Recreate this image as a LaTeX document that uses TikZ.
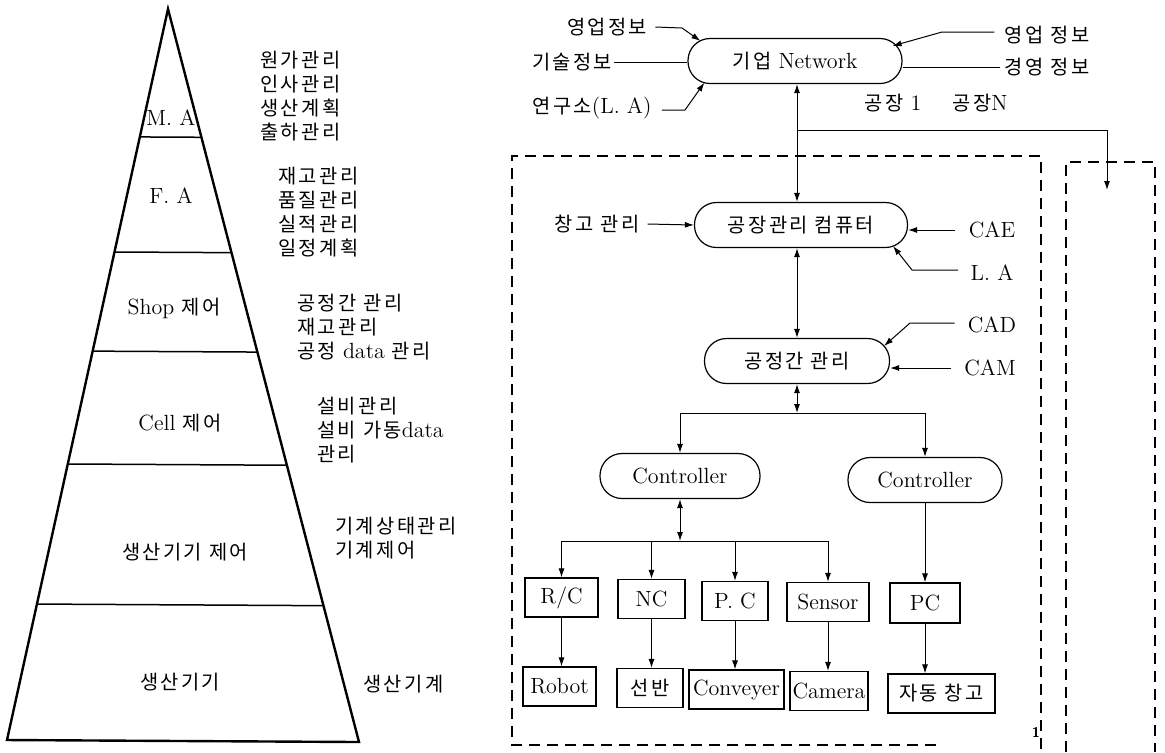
\documentclass[tikz,border=0pt]{standalone}
\usepackage{fontspec}
\newfontfamily\kr[Scale=0.9,LetterSpace=12]{Noto Sans CJK KR}
\usetikzlibrary{arrows.meta,calc}
\begin{document}
\begin{tikzpicture}[x=0.5pt,y=-0.5pt,
  font=\fontsize{11}{12}\selectfont,
  every node/.style={inner sep=0pt},
  list/.style={align=left, anchor=west, font=\fontsize{11}{12}\selectfont\kr},
  rbox/.style={draw, line width=0.6pt, rounded corners=11pt, minimum height=22.5pt},
  sbox/.style={draw, line width=0.6pt, minimum height=19.5pt},
  conn/.style={line width=0.5pt},
  arr/.style={conn, -{Latex[length=4.5pt,width=3pt]}},
  dbl/.style={conn, {Latex[length=4.5pt,width=3pt]}-{Latex[length=4.5pt,width=3pt]}},
  dashbox/.style={line width=0.6pt, dash pattern=on 5.5pt off 3.5pt},
  tri/.style={line width=1.2pt, line join=miter},
  tier/.style={line width=0.75pt}
]
\useasboundingbox (0,0) rectangle (1165,752);

% ---------------- pyramid ----------------
\coordinate (ap) at (168,9);
\coordinate (bl) at (7,740);
\coordinate (br) at (359,742);
\draw[tri] (ap) -- (bl) -- (br) -- cycle;
\foreach \t in {0.175,0.3324,0.468,0.6224,0.814}
  \draw[tier] ($(ap)!\t!(bl)$) -- ($(ap)!\t!(br)$);

\node (ma) at (171,118) {M. A};
\node (fa) at (171,196) {F. A};
\node (shop) at (174,308) {Shop {\kr 제어}};
\node (cell) at (180,423) {Cell {\kr 제어}};
\node (mcc) at (185,552) {\kr 생산기기 제어};
\node (mc) at (180,682) {\kr 생산기기};

\node[list] (la) at (260,96.5) {원가관리\\인사관리\\생산계획\\출하관리};
\node[list] (lb) at (278,212) {재고관리\\품질관리\\실적관리\\일정계획};
\node[list] (lc) at (297,327.5) {공정간 관리\\재고관리\\공정 {\rmfamily data} 관리};
\node[list] (ld) at (317,430) {설비관리\\설비 가동{\rmfamily data}\\관리};
\node[list] (le) at (335,538.5) {기계상태관리\\기계제어};
\node[list] (lf) at (363,684) {생산기계};

% ---------------- network diagram ----------------
\node[rbox, minimum width=107pt] (net) at (795,61) {{\kr 기업} Network};
\node[rbox, minimum width=106.5pt] (fc) at (801,225) {\kr 공장관리 컴퓨터};
\node[rbox, minimum width=92.5pt] (pm) at (797,361) {\kr 공정간 관리};
\node[rbox, minimum width=80pt] (c1) at (680,476) {Controller};
\node[rbox, minimum width=77pt] (c2) at (925,480) {Controller};

\node[sbox, minimum width=36.5pt] (rc) at (561.5,597.5) {R/C};
\node[sbox, minimum width=33.5pt] (nc) at (651.5,599) {NC};
\node[sbox, minimum width=33pt] (pcd) at (735,601) {P. C};
\node[sbox, minimum width=41pt] (sen) at (828,602) {Sensor};
\node[sbox, minimum width=35pt, minimum height=20pt] (pc) at (925,603) {PC};
\node[sbox, minimum width=36.5pt] (rob) at (559.5,686.5) {Robot};
\node[sbox, minimum width=33pt] (lat) at (650,688) {\kr 선반};
\node[sbox, minimum width=47.5pt] (conv) at (736.5,689.5) {Conveyer};
\node[sbox, minimum width=39pt] (cam) at (829,691) {Camera};
\node[sbox, minimum width=53.5pt] (auto) at (941.5,693.5) {\kr 자동 창고};

\node (i1) at (607,27) {\kr 영업정보};
\node (i2) at (572,62) {\kr 기술정보};
\node (i3) at (592,108) {{\kr 연구소}(L. A)};
\node (o1) at (1047,35) {\kr 영업 정보};
\node (o2) at (1047,67) {\kr 경영 정보};
\node (f1) at (893,103) {{\kr 공장} 1};
\node (fn) at (980,103) {{\kr 공장}N};
\node (wh) at (597,224) {\kr 창고 관리};
\node (cae) at (992,230) {CAE};
\node (la2) at (992,273) {L. A};
\node (cad) at (992,325) {CAD};
\node (cam2) at (990,368) {CAM};

% inputs to enterprise network
\draw[arr] ($(i1.east)+(8,0)$) -- (682,28) -- ($(net.north west)+(13,3)$);
\draw[conn] ($(i2.east)+(2,0)$) -- (net.west |- i2.east);
\draw[arr] ($(i3.east)+(10,2)$) -- (685,110) -- ($(net.south west)+(17,-1.5)$);
\draw[arr] ($(o1.west)+(-10,-3)$) -- (942,32) -- ($(net.north east)+(-10,8)$);
\draw[conn] ($(o2.west)+(-4,0)$) -- (net.east |- o2.west);

% vertical trunk
\coordinate (vx) at (797,0);
\coordinate (j) at (797,130);
\coordinate (nend) at (1107,190);
\draw[dbl] (net.south -| vx) -- (fc.north -| vx);
\draw[arr] (j) -- (nend |- j) -- (nend);

% factory computer inputs
\draw[arr] ($(wh.east)+(8,0)$) -- (fc.west);
\draw[arr] ($(cae.west)+(-13,0)$) -- (fc.east |- cae.west);
\draw[arr] ($(la2.west)+(-12,-3)$) -- (912,270) -- ($(fc.south east)+(-15,-2)$);

\draw[dbl] (fc.south -| vx) -- (pm.north -| vx);
\draw[arr] ($(cad.west)+(-13,-2)$) -- (910,323) -- ($(pm.north east)+(-6,8)$);
\draw[arr] ($(cam2.west)+(-13,0)$) -- (pm.east |- cam2.west);

% to controllers
\coordinate (b1) at (797,413);
\draw[dbl] (pm.south -| vx) -- (b1);
\draw[arr] (b1) -- (c1.north |- b1) -- (c1.north);
\draw[arr] (b1) -- (c2.north |- b1) -- (c2.north);

% controller 1 bus
\coordinate (b2) at (680,541);
\draw[dbl] (c1.south) -- (b2);
\draw[conn] (rc.north |- b2) -- (sen.north |- b2);
\foreach \n in {rc,nc,pcd,sen}
  \draw[arr] (\n.north |- b2) -- (\n.north);

% lower arrows
\draw[arr] (rc.south) -- (rc.south |- rob.north);
\draw[arr] (nc.south) -- (nc.south |- lat.north);
\draw[arr] (pcd.south) -- (pcd.south |- conv.north);
\draw[arr] (sen.south) -- (sen.south |- cam.north);
\draw[arr] (c2.south) -- (pc.north);
\draw[arr] (pc.south) -- (pc.south |- auto.north);

% dashed factory frames
\draw[dashbox] (936,745) -- (512,745) -- (512,156) -- (1041,156) -- (1041,752);
\draw[dashbox] (1066,752) -- (1066,162) -- (1155,162) -- (1155,752);
\node[font=\sffamily\bfseries\scriptsize] (one) at (1036,732) {1};
\end{tikzpicture}
\end{document}
